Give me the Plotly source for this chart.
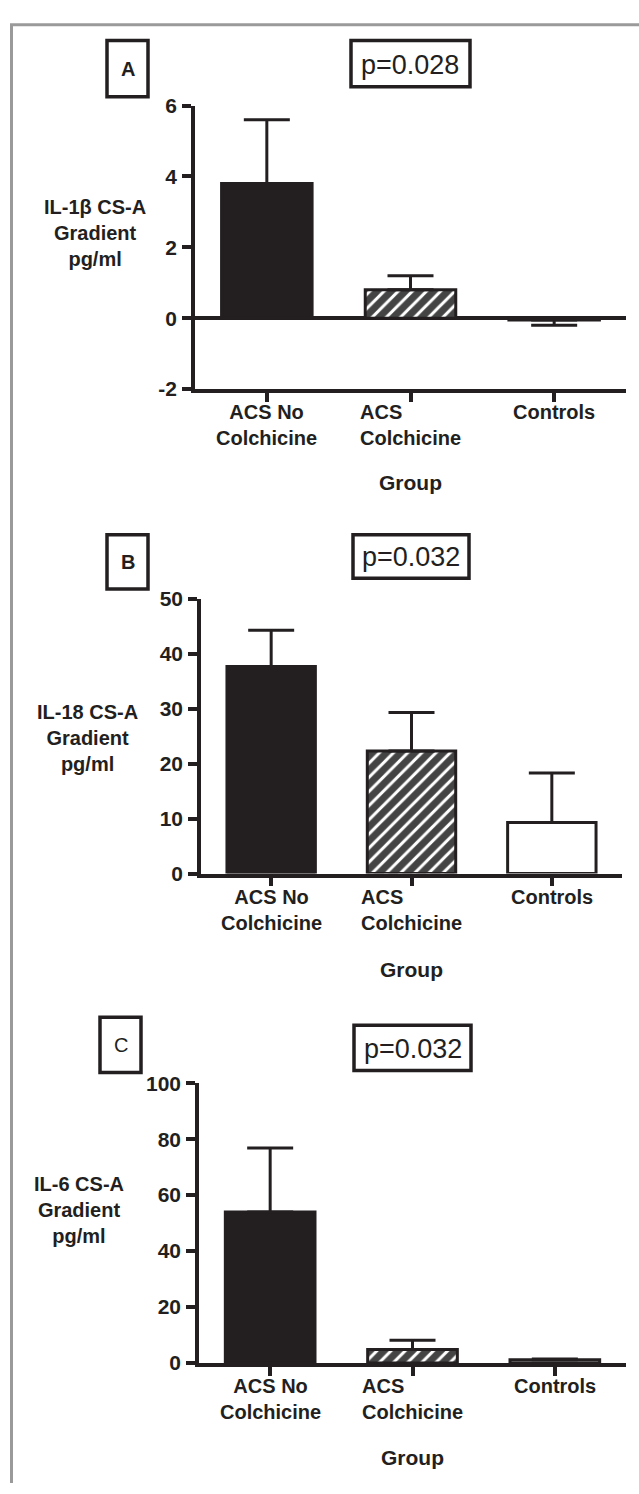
import plotly.graph_objects as go

# ---------------- data ----------------
categories = ["ACS No<br>Colchicine", "ACS<br>Colchicine", "Controls"]
label_align = ["center", "left", "center"]

il1b_mean = [3.8, 0.8, -0.05]
il1b_err_up = [1.8, 0.4, 0.0]
il1b_err_down = [0.0, 0.0, 0.15]

il18_mean = [37.7, 22.3, 9.3]
il18_err_up = [6.6, 7.0, 9.0]
il18_err_down = [0.0, 0.0, 0.0]

il6_mean = [54.0, 4.8, 1.1]
il6_err_up = [22.8, 3.3, 0.3]
il6_err_down = [0.0, 0.0, 0.0]

yticks_a = [-2, 0, 2, 4, 6]
yticks_b = [0, 10, 20, 30, 40, 50]
yticks_c = [0, 20, 40, 60, 80, 100]

panel_letters = ["A", "B", "C"]
p_values = ["p=0.028", "p=0.032", "p=0.032"]
y_titles = ["IL-1β CS-A<br>Gradient<br>pg/ml",
            "IL-18 CS-A<br>Gradient<br>pg/ml",
            "IL-6 CS-A<br>Gradient<br>pg/ml"]
x_title = "Group"

# ---------------- layout helpers ----------------
W, H = 639, 1494
FONT = "Liberation Sans, Arial, Helvetica, sans-serif"
INK = "#231f20"


def fx(px):
    return px / W


def fy(py):
    return 1 - py / H


panels = [
    dict(mean=il1b_mean, up=il1b_err_up, dn=il1b_err_down, ticks=yticks_a,
         yrange=[-2, 6], x0=195, x1=626, ytop=95, ybot=383, axis_px=383,
         ytitle_xy=(95, 224), group_y=478,
         letter_box=(107, 29, 148, 86), letter_bold=True,
         pbox=(351, 29, 470, 76), zeroline=True),
    dict(mean=il18_mean, up=il18_err_up, dn=il18_err_down, ticks=yticks_b,
         yrange=[0, 50], x0=201, x1=622, ytop=596, ybot=875, axis_px=876,
         ytitle_xy=(87, 737), group_y=972,
         letter_box=(107, 531, 148, 586), letter_bold=True,
         pbox=(353, 531, 469, 575), zeroline=False),
    dict(mean=il6_mean, up=il6_err_up, dn=il6_err_down, ticks=yticks_c,
         yrange=[0, 100], x0=199, x1=626, ytop=1088, ybot=1372, axis_px=1372,
         ytitle_xy=(79, 1217), group_y=1468,
         letter_box=(100, 1021, 141, 1077), letter_bold=False,
         pbox=(354, 1029, 471, 1075), zeroline=False),
]

fig = go.Figure()
annotations = []
shapes = []
xpos = list(range(len(categories)))

for i, p in enumerate(panels):
    n = "" if i == 0 else str(i + 1)
    xa, ya = "x" + n, "y" + n
    fig.add_trace(go.Bar(
        x=xpos, y=p["mean"], xaxis=xa, yaxis=ya, width=0.63,
        marker=dict(color=[INK, "white", "white"],
                    line=dict(color=INK, width=3),
                    pattern=dict(shape=["", "/", ""], fgcolor="black",
                                 fgopacity=1, size=10, solidity=0.7)),
        error_y=dict(type="data", symmetric=False, array=p["up"],
                     arrayminus=p["dn"], color=INK, thickness=3, width=23),
        showlegend=False, hoverinfo="skip",
    ))
    fig.layout["xaxis" + n] = dict(
        domain=[fx(p["x0"]), fx(p["x1"])], anchor=ya, range=[-0.5, 2.5],
        tickvals=xpos, showticklabels=False, ticks="outside", ticklen=9,
        tickwidth=3.5, tickcolor=INK, showline=True, linewidth=3.5,
        linecolor=INK, showgrid=False, zeroline=False, fixedrange=True)
    fig.layout["yaxis" + n] = dict(
        domain=[fy(p["ybot"]), fy(p["ytop"])], anchor=xa, range=p["yrange"],
        tickvals=p["ticks"], ticktext=[str(t) for t in p["ticks"]],
        ticks="outside", ticklen=9, tickwidth=3.5,
        tickcolor=INK, showline=True, linewidth=3.5, linecolor=INK,
        showgrid=False, zeroline=p["zeroline"], zerolinewidth=3.5,
        zerolinecolor=INK, ticklabelstandoff=1,
        tickfont=dict(family=FONT, size=21, color=INK, weight="bold"),
        fixedrange=True)

    # category labels under the axis
    for j, cat in enumerate(categories):
        annotations.append(dict(
            x=xpos[j], xref=xa, y=fy(p["axis_px"] + 10), yref="paper",
            yanchor="top", xanchor="center", align=label_align[j],
            text="<b>" + cat + "</b>", showarrow=False,
            font=dict(family=FONT, size=20, color=INK)))
    # x axis title
    annotations.append(dict(
        x=1, xref=xa, y=fy(p["group_y"]), yref="paper", yanchor="middle",
        xanchor="center", text="<b>" + x_title + "</b>", showarrow=False,
        font=dict(family=FONT, size=21, color=INK)))
    # y axis title
    tx, ty = p["ytitle_xy"]
    annotations.append(dict(
        x=fx(tx), xref="paper", y=fy(ty), yref="paper", yanchor="middle",
        xanchor="center", align="center", text="<b>" + y_titles[i] + "</b>",
        showarrow=False, font=dict(family=FONT, size=20, color=INK)))
    # panel letter box
    lx0, ly0, lx1, ly1 = p["letter_box"]
    shapes.append(dict(type="rect", xref="paper", yref="paper",
                       x0=fx(lx0), x1=fx(lx1), y0=fy(ly1), y1=fy(ly0),
                       line=dict(color=INK, width=3.5)))
    letter = panel_letters[i]
    annotations.append(dict(
        x=fx((lx0 + lx1) / 2), y=fy((ly0 + ly1) / 2), xref="paper",
        yref="paper", xanchor="center", yanchor="middle", showarrow=False,
        text=("<b>%s</b>" % letter) if p["letter_bold"] else letter,
        font=dict(family=FONT, size=20, color=INK)))
    # p-value box
    px0, py0, px1, py1 = p["pbox"]
    shapes.append(dict(type="rect", xref="paper", yref="paper",
                       x0=fx(px0), x1=fx(px1), y0=fy(py1), y1=fy(py0),
                       line=dict(color=INK, width=3.5)))
    annotations.append(dict(
        x=fx((px0 + px1) / 2), y=fy((py0 + py1) / 2 + 1), xref="paper",
        yref="paper", xanchor="center", yanchor="middle", showarrow=False,
        text=p_values[i], font=dict(family=FONT, size=27, color=INK)))

# grey frame (top and left)
shapes.append(dict(type="line", xref="paper", yref="paper",
                   x0=fx(11.5), x1=fx(11.5), y0=0, y1=fy(13),
                   line=dict(color="#9a9a9a", width=3)))
shapes.append(dict(type="line", xref="paper", yref="paper",
                   x0=fx(10), x1=1, y0=fy(13), y1=fy(13),
                   line=dict(color="#9a9a9a", width=3)))

fig.update_layout(
    width=W, height=H, margin=dict(l=0, r=0, t=0, b=0),
    paper_bgcolor="white", plot_bgcolor="white",
    annotations=annotations, shapes=shapes, bargap=0.37,
    font=dict(family=FONT, color=INK),
)

fig.write_html("out.html", config={"displayModeBar": False},
               post_script="document.body.style.margin='0';"
                           "document.body.style.padding='0';")
